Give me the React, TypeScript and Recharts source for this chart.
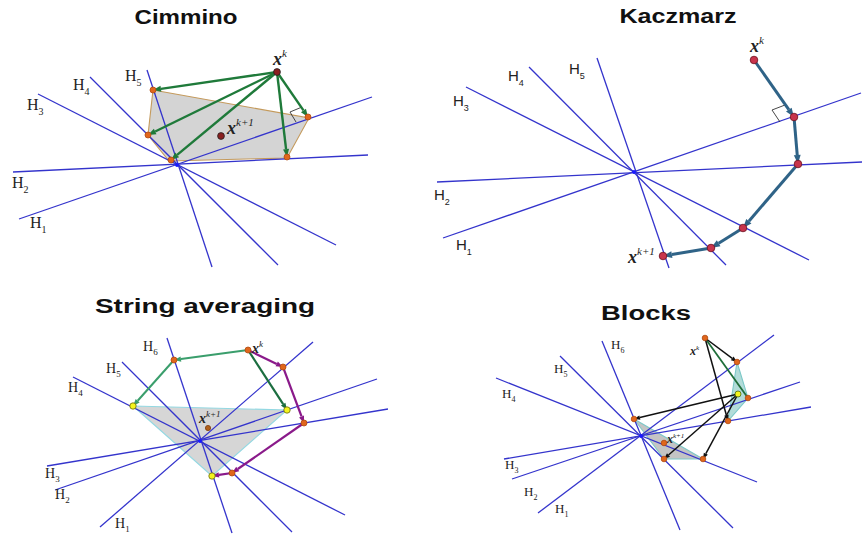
import React from "react";
import { ScatterChart, Scatter, XAxis, YAxis } from "recharts";

type Pt = { x: number; y: number };
type Tag = Pt & { base: string; sub?: string; sup?: string };
type Title = Pt & { text: string };

// Figure is laid out in picture pixels (x right, y down)

// ---- Cimmino (top left) ----
const cimCenter: Pt[] = [{ x: 177, y: 165 }];
const cimPlanes: Pt[][] = [
  [{ x: 19, y: 219 }, { x: 372, y: 97 }], // H1
  [{ x: 13, y: 172 }, { x: 368, y: 155 }], // H2
  [{ x: 38, y: 94 }, { x: 336, y: 245 }], // H3
  [{ x: 90, y: 77 }, { x: 278, y: 265 }], // H4
  [{ x: 147, y: 70 }, { x: 212, y: 267 }], // H5
];
const cimRegion: Pt[] = [
  { x: 153, y: 90 }, { x: 309, y: 118 }, { x: 287, y: 158 }, { x: 169, y: 161 }, { x: 148, y: 135 },
];
const cimStart: Pt[] = [{ x: 277, y: 72 }];
const cimProj: Pt[] = [
  { x: 153, y: 90 }, { x: 148, y: 135 }, { x: 171, y: 160 }, { x: 287, y: 157 }, { x: 308, y: 117 },
];
const cimNext: Pt[] = [{ x: 221, y: 136 }];
const cimRight: Pt[] = [{ x: 302, y: 107 }, { x: 290, y: 112 }, { x: 296, y: 122 }];
const cimTags: Tag[] = [
  { x: 125, y: 81, base: "H", sub: "5" },
  { x: 73, y: 90, base: "H", sub: "4" },
  { x: 27, y: 110, base: "H", sub: "3" },
  { x: 12, y: 188, base: "H", sub: "2" },
  { x: 30, y: 228, base: "H", sub: "1" },
];
const cimXTags: Tag[] = [
  { x: 273, y: 65, base: "x", sup: "k" },
  { x: 227, y: 134, base: "x", sup: "k+1" },
];

// ---- Kaczmarz (top right) ----
const kacCenter: Pt[] = [{ x: 634, y: 172 }];
const kacPlanes: Pt[][] = [
  [{ x: 443, y: 238 }, { x: 861, y: 93 }], // H1
  [{ x: 437, y: 182 }, { x: 862, y: 162 }], // H2
  [{ x: 466, y: 87 }, { x: 809, y: 260 }], // H3
  [{ x: 529, y: 67 }, { x: 726, y: 265 }], // H4
  [{ x: 597, y: 58 }, { x: 669, y: 268 }], // H5
];
const kacPath: Pt[] = [
  { x: 754, y: 60 }, { x: 794, y: 117 }, { x: 798, y: 164 }, { x: 743, y: 228 }, { x: 711, y: 248 }, { x: 663, y: 256 },
];
const kacRight: Pt[] = [{ x: 785, y: 105 }, { x: 772, y: 110 }, { x: 780, y: 122 }];
const kacTags: Tag[] = [
  { x: 569, y: 74, base: "H", sub: "5" },
  { x: 508, y: 81, base: "H", sub: "4" },
  { x: 453, y: 106, base: "H", sub: "3" },
  { x: 434, y: 200, base: "H", sub: "2" },
  { x: 456, y: 250, base: "H", sub: "1" },
];
const kacXTags: Tag[] = [
  { x: 750, y: 52, base: "x", sup: "k" },
  { x: 628, y: 263, base: "x", sup: "k+1" },
];

// ---- String averaging (bottom left) ----
const strCenter: Pt[] = [{ x: 200, y: 441 }];
const strPlanes: Pt[][] = [
  [{ x: 100, y: 527 }, { x: 313, y: 342 }], // H1
  [{ x: 55, y: 490 }, { x: 377, y: 379 }], // H2
  [{ x: 47, y: 466 }, { x: 388, y: 409 }], // H3
  [{ x: 73, y: 377 }, { x: 345, y: 515 }], // H4
  [{ x: 122, y: 362 }, { x: 292, y: 532 }], // H5
  [{ x: 167, y: 338 }, { x: 232, y: 533 }], // H6
];
const strRegion: Pt[] = [{ x: 133, y: 406 }, { x: 287, y: 410 }, { x: 212, y: 476 }];
const strLeft: Pt[] = [{ x: 248, y: 350 }, { x: 174, y: 360 }, { x: 133, y: 406 }];
const strMid: Pt[] = [{ x: 248, y: 350 }, { x: 287, y: 410 }];
const strRightPath: Pt[] = [
  { x: 248, y: 350 }, { x: 283, y: 367 }, { x: 304, y: 423 }, { x: 232, y: 473 }, { x: 212, y: 476 },
];
const strInner: Pt[] = [
  { x: 248, y: 350 }, { x: 174, y: 360 }, { x: 283, y: 367 }, { x: 304, y: 423 }, { x: 232, y: 473 },
];
const strEnds: Pt[] = [{ x: 133, y: 406 }, { x: 287, y: 410 }, { x: 212, y: 476 }];
const strNext: Pt[] = [{ x: 208, y: 428 }];
const strTags: Tag[] = [
  { x: 143, y: 351, base: "H", sub: "6" },
  { x: 106, y: 373, base: "H", sub: "5" },
  { x: 68, y: 392, base: "H", sub: "4" },
  { x: 45, y: 478, base: "H", sub: "3" },
  { x: 55, y: 499, base: "H", sub: "2" },
  { x: 115, y: 528, base: "H", sub: "1" },
];
const strXTags: Tag[] = [
  { x: 252, y: 353, base: "x", sup: "k" },
  { x: 199, y: 423, base: "x", sup: "k+1" },
];

// ---- Blocks (bottom right) ----
const blkCenter: Pt[] = [{ x: 641, y: 436 }];
const blkPlanes: Pt[][] = [
  [{ x: 538, y: 513 }, { x: 774, y: 335 }], // H1
  [{ x: 512, y: 479 }, { x: 800, y: 382 }], // H2
  [{ x: 504, y: 459 }, { x: 811, y: 407 }], // H3
  [{ x: 496, y: 378 }, { x: 757, y: 482 }], // H4
  [{ x: 560, y: 356 }, { x: 733, y: 528 }], // H5
  [{ x: 602, y: 341 }, { x: 680, y: 530 }], // H6
];
const blkRegionA: Pt[] = [{ x: 737, y: 362 }, { x: 748, y: 398 }, { x: 728, y: 421 }];
const blkRegionB: Pt[] = [{ x: 634, y: 419 }, { x: 664, y: 459 }, { x: 703, y: 459 }];
const blkStart: Pt[] = [{ x: 705, y: 338 }];
const blkMid: Pt[] = [{ x: 738, y: 394 }];
const blkArrowsA: Pt[][] = [
  [{ x: 705, y: 338 }, { x: 737, y: 362 }],
  [{ x: 705, y: 338 }, { x: 728, y: 421 }],
  [{ x: 738, y: 394 }, { x: 634, y: 419 }],
  [{ x: 738, y: 394 }, { x: 664, y: 459 }],
  [{ x: 738, y: 394 }, { x: 703, y: 459 }],
];
const blkGreen: Pt[] = [{ x: 705, y: 338 }, { x: 748, y: 398 }];
const blkProj: Pt[] = [
  { x: 705, y: 338 }, { x: 737, y: 362 }, { x: 748, y: 398 }, { x: 728, y: 421 },
  { x: 634, y: 419 }, { x: 664, y: 459 }, { x: 703, y: 459 }, { x: 664, y: 443 },
];
const blkTags: Tag[] = [
  { x: 611, y: 349, base: "H", sub: "6" },
  { x: 554, y: 373, base: "H", sub: "5" },
  { x: 502, y: 398, base: "H", sub: "4" },
  { x: 505, y: 469, base: "H", sub: "3" },
  { x: 524, y: 496, base: "H", sub: "2" },
  { x: 555, y: 513, base: "H", sub: "1" },
];
const blkXTags: Tag[] = [
  { x: 690, y: 355, base: "x", sup: "k" },
  { x: 667, y: 443, base: "x", sup: "k+1" },
];

const titles: Title[] = [
  { x: 186, y: 24, text: "Cimmino" },
  { x: 678, y: 23, text: "Kaczmarz" },
  { x: 205, y: 313, text: "String averaging" },
  { x: 646, y: 320, text: "Blocks" },
];
const TITLE_WIDTH: Record<string, number> = {
  Cimmino: 103,
  Kaczmarz: 117,
  "String averaging": 220,
  Blocks: 90,
};

const BLUE = "#3434cc";
const SERIF = "'Liberation Serif', 'Times New Roman', serif";
const SANS = "'Liberation Sans', Arial, sans-serif";

const noDot = () => <g />;

// pairs of consecutive points -> segments
const toSegments = (pts: Pt[]) => pts.slice(1).map((p, i) => [pts[i], p]);

const plainLine = (color: string, width: number) => (lp: any) => {
  const pts: Pt[] = lp.points;
  return (
    <polyline
      points={pts.map((p) => `${p.x},${p.y}`).join(" ")}
      fill="none"
      stroke={color}
      strokeWidth={width}
    />
  );
};

const arrowLine = (color: string, width: number, head: number) => (lp: any) => {
  const pts: Pt[] = lp.points;
  const a = pts[0];
  const b = pts[pts.length - 1];
  const dx = b.x - a.x;
  const dy = b.y - a.y;
  const len = Math.hypot(dx, dy) || 1;
  const ux = dx / len;
  const uy = dy / len;
  const bx = b.x - ux * head;
  const by = b.y - uy * head;
  const w = head * 0.38;
  return (
    <g>
      <line x1={a.x} y1={a.y} x2={bx} y2={by} stroke={color} strokeWidth={width} />
      <polygon
        points={`${b.x},${b.y} ${bx - uy * w},${by + ux * w} ${bx + uy * w},${by - ux * w}`}
        fill={color}
      />
    </g>
  );
};

const regionShape = (fill: string, stroke: string, opacity = 1) => (lp: any) => {
  const pts: Pt[] = lp.points;
  return (
    <polygon
      points={pts.map((p) => `${p.x},${p.y}`).join(" ")}
      fill={fill}
      fillOpacity={opacity}
      stroke={stroke}
      strokeWidth={1.1}
    />
  );
};

const dotShape = (fill: string, stroke: string, r: number) => (p: any) => (
  <circle cx={p.cx} cy={p.cy} r={r} fill={fill} stroke={stroke} strokeWidth={0.8} />
);

const tagShape = (family: string, size: number, italic = false) => (p: any) => {
  const t: Tag = p.payload;
  const small = Math.round(size * 0.62);
  return (
    <text
      x={p.cx}
      y={p.cy}
      fontFamily={family}
      fontSize={size}
      fontStyle={italic ? "italic" : "normal"}
      fontWeight={italic ? 600 : 400}
      fill="#222"
    >
      {t.base}
      {t.sub && (
        <tspan fontSize={small} dy={size * 0.3}>
          {t.sub}
        </tspan>
      )}
      {t.sup && (
        <tspan fontSize={small} fontWeight={400} dy={-size * 0.45}>
          {t.sup}
        </tspan>
      )}
    </text>
  );
};

const titleShape = (p: any) => {
  const t: Title = p.payload;
  return (
    <text
      x={p.cx}
      y={p.cy}
      textAnchor="middle"
      fontFamily={SANS}
      fontWeight="bold"
      fontSize={20}
      textLength={TITLE_WIDTH[t.text]}
      lengthAdjust="spacingAndGlyphs"
      fill="#111"
    >
      {t.text}
    </text>
  );
};

const planes = (key: string, list: Pt[][]) =>
  list.map((seg, i) => (
    <Scatter
      key={`${key}${i}`}
      data={seg}
      shape={noDot}
      line={plainLine(BLUE, 1.3)}
      isAnimationActive={false}
    />
  ));

const arrows = (key: string, list: Pt[][], color: string, width: number, head: number) =>
  list.map((seg, i) => (
    <Scatter
      key={`${key}${i}`}
      data={seg}
      shape={noDot}
      line={arrowLine(color, width, head)}
      isAnimationActive={false}
    />
  ));

export default function App() {
  return (
    <div style={{ position: "absolute", left: 0, top: 0, width: 862, height: 535, background: "#fff" }}>
      <ScatterChart width={862} height={535} margin={{ top: 0, right: 0, bottom: 0, left: 0 }}>
        <XAxis type="number" dataKey="x" domain={[0, 862]} hide allowDataOverflow />
        <YAxis type="number" dataKey="y" domain={[0, 535]} reversed hide allowDataOverflow />

        {/* shaded regions */}
        <Scatter data={cimRegion} shape={noDot} line={regionShape("#d4d4d4", "#c49a5c")} isAnimationActive={false} />
        <Scatter data={strRegion} shape={noDot} line={regionShape("#d6d6d6", "#93d8e2")} isAnimationActive={false} />
        <Scatter data={blkRegionA} shape={noDot} line={regionShape("#9fd3cf", "#7cc8c8", 0.8)} isAnimationActive={false} />
        <Scatter data={blkRegionB} shape={noDot} line={regionShape("#c4c4c4", "#7cc8c8")} isAnimationActive={false} />

        {/* hyperplanes */}
        {planes("cp", cimPlanes)}
        {planes("kp", kacPlanes)}
        {planes("sp", strPlanes)}
        {planes("bp", blkPlanes)}

        {/* right angle marks */}
        <Scatter data={cimRight} shape={noDot} line={plainLine("#333", 0.9)} isAnimationActive={false} />
        <Scatter data={kacRight} shape={noDot} line={plainLine("#333", 0.9)} isAnimationActive={false} />

        {/* iteration steps */}
        {arrows("ca", cimProj.map((p) => [cimStart[0], p]), "#1f7a3a", 2.4, 8)}
        {arrows("ka", toSegments(kacPath), "#2f6387", 3, 9)}
        {arrows("sl", toSegments(strLeft), "#3a9e6c", 2, 7)}
        {arrows("sm", [strMid], "#1c6e40", 2.2, 7)}
        {arrows("sr", toSegments(strRightPath), "#8a1a8a", 2.2, 7)}
        <Scatter data={blkGreen} shape={noDot} line={plainLine("#1f6e3a", 1.8)} isAnimationActive={false} />
        {arrows("ba", blkArrowsA, "#111", 1.5, 6)}

        {/* points */}
        <Scatter data={[...cimCenter, ...kacCenter, ...strCenter, ...blkCenter]} shape={dotShape("#1a1aff", "#1a1aff", 1.6)} isAnimationActive={false} />
        <Scatter data={cimProj} shape={dotShape("#e0661c", "#b04a10", 3)} isAnimationActive={false} />
        <Scatter data={[...cimStart, ...cimNext]} shape={dotShape("#8a1f1f", "#222", 3.4)} isAnimationActive={false} />
        <Scatter data={kacPath} shape={dotShape("#c8344c", "#6b1020", 3.8)} isAnimationActive={false} />
        <Scatter data={strInner} shape={dotShape("#e0661c", "#b04a10", 3)} isAnimationActive={false} />
        <Scatter data={strEnds} shape={dotShape("#f4f41c", "#6a6a10", 3.2)} isAnimationActive={false} />
        <Scatter data={strNext} shape={dotShape("#b0601a", "#7a3a0a", 2.6)} isAnimationActive={false} />
        <Scatter data={blkProj} shape={dotShape("#e0661c", "#b04a10", 2.8)} isAnimationActive={false} />
        <Scatter data={blkMid} shape={dotShape("#f4f41c", "#4a6a10", 3)} isAnimationActive={false} />

        {/* labels */}
        <Scatter data={cimTags} shape={tagShape(SERIF, 16)} isAnimationActive={false} />
        <Scatter data={kacTags} shape={tagShape(SANS, 15)} isAnimationActive={false} />
        <Scatter data={strTags} shape={tagShape(SERIF, 14)} isAnimationActive={false} />
        <Scatter data={blkTags} shape={tagShape(SERIF, 13)} isAnimationActive={false} />
        <Scatter data={cimXTags} shape={tagShape(SERIF, 18, true)} isAnimationActive={false} />
        <Scatter data={kacXTags} shape={tagShape(SERIF, 18, true)} isAnimationActive={false} />
        <Scatter data={strXTags} shape={tagShape(SERIF, 14, true)} isAnimationActive={false} />
        <Scatter data={blkXTags} shape={tagShape(SERIF, 12, true)} isAnimationActive={false} />
        <Scatter data={titles} shape={titleShape} isAnimationActive={false} />
      </ScatterChart>
    </div>
  );
}
